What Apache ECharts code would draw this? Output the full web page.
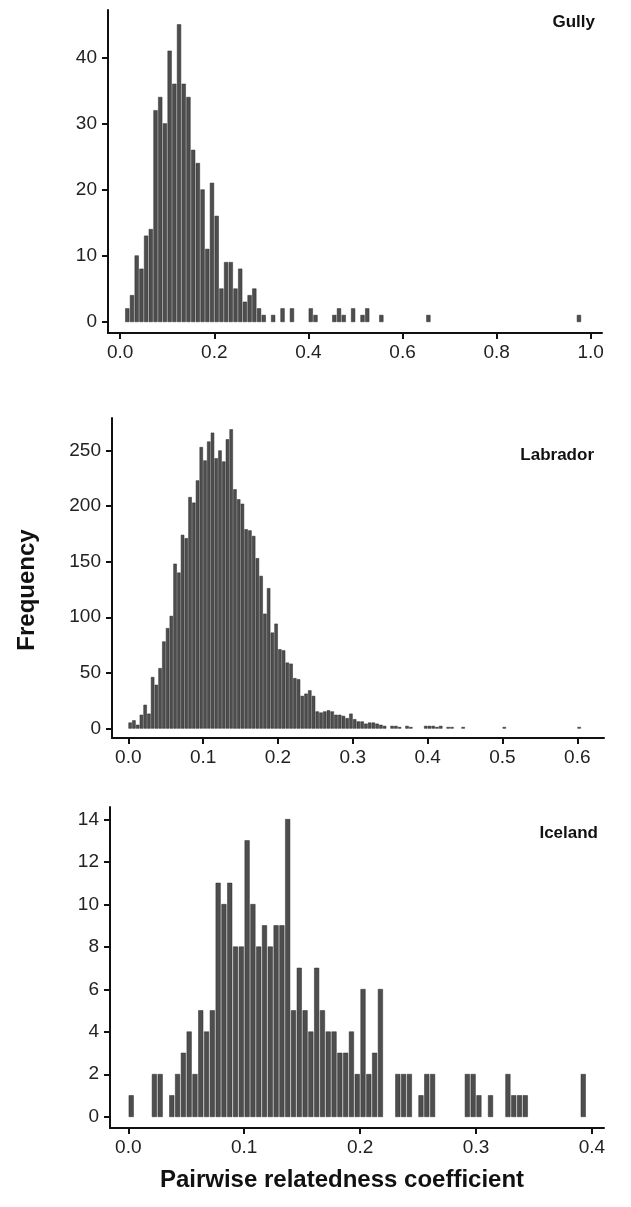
<!DOCTYPE html>
<html>
<head>
<meta charset="utf-8">
<script src="https://cdn.jsdelivr.net/npm/echarts@6/dist/echarts.min.js"></script>
<style>
  html, body { margin: 0; padding: 0; background: #fff; }
  #chart { width: 631px; height: 1207px; }
</style>
</head>
<body>
<div id="chart"></div>
<script>
// bin widths of the three histograms
var gullyBin = 0.01
var labradorBin = 0.005
var icelandBin = 0.005

// counts per bin, bin i starts at i * bin width
var gullyCounts = [
  0, 2, 4, 10, 8, 13, 14, 32, 34, 30,
  41, 36, 45, 36, 34, 26, 24, 20, 11, 21,
  16, 5, 9, 9, 5, 8, 3, 4, 5, 2,
  1, 0, 1, 0, 2, 0, 2, 0, 0, 0,
  2, 1, 0, 0, 0, 1, 2, 1, 0, 2,
  0, 1, 2, 0, 0, 1, 0, 0, 0, 0,
  0, 0, 0, 0, 0, 1, 0, 0, 0, 0,
  0, 0, 0, 0, 0, 0, 0, 0, 0, 0,
  0, 0, 0, 0, 0, 0, 0, 0, 0, 0,
  0, 0, 0, 0, 0, 0, 0, 1
]
var labradorCounts = [
  5, 7, 3, 12, 21, 13, 46, 39, 54, 78,
  90, 101, 148, 140, 174, 171, 208, 203, 223, 253,
  241, 258, 266, 243, 250, 240, 260, 269, 215, 206,
  202, 179, 178, 173, 153, 137, 103, 126, 86, 94,
  71, 70, 59, 58, 45, 44, 29, 31, 34, 29,
  15, 14, 15, 16, 15, 12, 12, 11, 9, 13,
  8, 6, 6, 4, 5, 5, 4, 3, 2, 0,
  2, 2, 1, 0, 2, 1, 0, 0, 0, 2,
  2, 2, 1, 2, 0, 1, 1, 0, 0, 1,
  0, 0, 0, 0, 0, 0, 0, 0, 0, 0,
  1, 0, 0, 0, 0, 0, 0, 0, 0, 0,
  0, 0, 0, 0, 0, 0, 0, 0, 0, 0,
  1
]
var icelandCounts = [
  1, 0, 0, 0, 2, 2, 0, 1, 2, 3,
  4, 2, 5, 4, 5, 11, 10, 11, 8, 8,
  13, 10, 8, 9, 8, 9, 9, 14, 5, 7,
  5, 4, 7, 5, 4, 4, 3, 3, 4, 2,
  6, 2, 3, 6, 0, 0, 2, 2, 2, 0,
  1, 2, 2, 0, 0, 0, 0, 0, 2, 2,
  1, 0, 1, 0, 0, 2, 1, 1, 1, 0,
  0, 0, 0, 0, 0, 0, 0, 0, 2
]

// tick labels
var gullyXTicks = [0, 0.2, 0.4, 0.6, 0.8, 1.0]
var gullyYTicks = [0, 10, 20, 30, 40]
var labradorXTicks = [0, 0.1, 0.2, 0.3, 0.4, 0.5, 0.6]
var labradorYTicks = [0, 50, 100, 150, 200, 250]
var icelandXTicks = [0, 0.1, 0.2, 0.3, 0.4]
var icelandYTicks = [0, 2, 4, 6, 8, 10, 12, 14]

var panelNames = ['Gully', 'Labrador', 'Iceland']

var font = "'Liberation Sans', Arial, sans-serif"

function toBins(counts, width) {
  var out = []
  counts.forEach(function (n, i) {
    if (n > 0) out.push([+(i * width).toFixed(4), n])
  })
  return out
}

function barItem(width) {
  return function (params, api) {
    var start = api.value(0)
    var lo = api.coord([start, 0])
    var hi = api.coord([start + width, api.value(1)])
    var w = hi[0] - lo[0]
    return {
      type: 'rect',
      shape: { x: lo[0] + w * 0.11, y: hi[1], width: w * 0.78, height: lo[1] - hi[1] },
      style: { fill: '#4e4e4e', stroke: '#2c2c2c', lineWidth: 0.5 }
    }
  }
}

function xAxisOf(idx, min, max, ticks) {
  return {
    type: 'value', gridIndex: idx, min: min, max: max,
    splitLine: { show: false },
    axisLine: { onZero: false, lineStyle: { color: '#111', width: 2 } },
    axisTick: { customValues: ticks, length: 6, lineStyle: { color: '#111', width: 2 } },
    axisLabel: {
      customValues: ticks, margin: 10, color: '#222', fontFamily: font, fontSize: 19,
      formatter: function (v) { return v.toFixed(1) }
    }
  }
}

function yAxisOf(idx, min, max, ticks) {
  return {
    type: 'value', gridIndex: idx, min: min, max: max,
    splitLine: { show: false },
    axisLine: { show: true, onZero: false, lineStyle: { color: '#111', width: 2 } },
    axisTick: { show: true, customValues: ticks, length: 6, lineStyle: { color: '#111', width: 2 } },
    axisLabel: { customValues: ticks, margin: 11, color: '#222', fontFamily: font, fontSize: 19 }
  }
}

var myChart = echarts.init(document.getElementById('chart'))
myChart.setOption({
  animation: false,
  backgroundColor: '#fff',
  grid: [
    { left: 108, top: 10, width: 494, height: 323 },
    { left: 112, top: 418, width: 492, height: 320 },
    { left: 110, top: 807, width: 494, height: 321 }
  ],
  xAxis: [
    xAxisOf(0, -0.026, 1.024, gullyXTicks),
    xAxisOf(1, -0.0218, 0.6357, labradorXTicks),
    xAxisOf(2, -0.0158, 0.4104, icelandXTicks)
  ],
  yAxis: [
    yAxisOf(0, -1.7, 47.2, gullyYTicks),
    yAxisOf(1, -8.7, 279.4, labradorYTicks),
    yAxisOf(2, -0.53, 14.58, icelandYTicks)
  ],
  title: [
    { text: panelNames[0], right: 31, top: 9 },
    { text: panelNames[1], right: 32, top: 442 },
    { text: panelNames[2], right: 28, top: 820 }
  ].map(function (t) {
    t.textStyle = { color: '#111', fontFamily: font, fontWeight: 'bold', fontSize: 17 }
    return t
  }),
  graphic: [
    {
      type: 'text', x: 27, y: 590, rotation: Math.PI / 2,
      style: { text: 'Frequency', fill: '#111', font: 'bold 24px ' + font, align: 'center', verticalAlign: 'middle' }
    },
    {
      type: 'text', x: 342, y: 1180,
      style: { text: 'Pairwise relatedness coefficient', fill: '#111', font: 'bold 24px ' + font, align: 'center', verticalAlign: 'middle' }
    }
  ],
  series: [
    { type: 'custom', xAxisIndex: 0, yAxisIndex: 0, renderItem: barItem(gullyBin), data: toBins(gullyCounts, gullyBin), encode: { x: 0, y: 1 } },
    { type: 'custom', xAxisIndex: 1, yAxisIndex: 1, renderItem: barItem(labradorBin), data: toBins(labradorCounts, labradorBin), encode: { x: 0, y: 1 } },
    { type: 'custom', xAxisIndex: 2, yAxisIndex: 2, renderItem: barItem(icelandBin), data: toBins(icelandCounts, icelandBin), encode: { x: 0, y: 1 } }
  ]
})
</script>
</body>
</html>
